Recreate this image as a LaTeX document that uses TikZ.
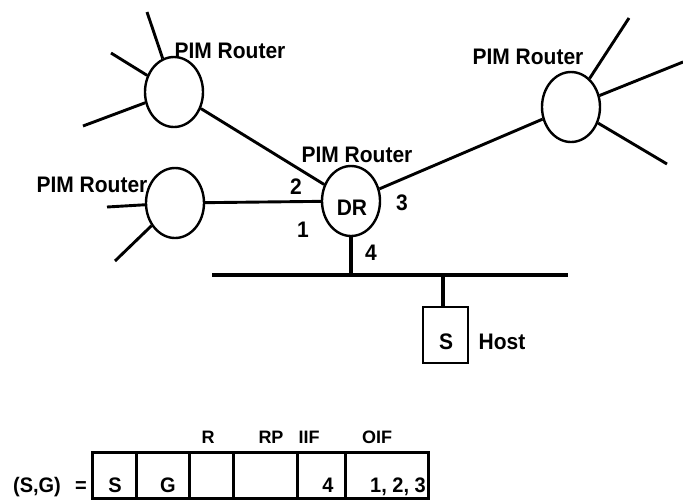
\documentclass[tikz,border=0pt]{standalone}
\usepackage{fontspec}
\setmainfont{Liberation Sans Bold}
\usetikzlibrary{shapes.geometric}
\begin{document}
\begin{tikzpicture}[x=1pt,y=-1pt,
  router/.style={ellipse, draw, line width=2.4pt, minimum width=58pt, minimum height=70pt, inner sep=0pt},
  lnk/.style={line width=2.9pt},
  bus/.style={line width=4.5pt},
  lbl/.style={font=\fontsize{21}{24}\selectfont, anchor=base, inner sep=0pt, yscale=1.07},
  tlbl/.style={font=\fontsize{20}{24}\selectfont, anchor=base, inner sep=0pt, yscale=1.05},
  hlbl/.style={font=\fontsize{18}{22}\selectfont, anchor=base, inner sep=0pt},
  cell/.style={draw, line width=2.8pt, anchor=north west, inner sep=0pt, minimum height=46pt}
]
\useasboundingbox (0,0) rectangle (683,499);

% routers
\node[router] (tl) at (174,92) {};
\node[router] (lr) at (175,203) {};
\node[router] (dr) at (351,201) {};
\node[router] (rr) at (571,107) {};

% spoke ends
\coordinate (tl1) at (147,12);
\coordinate (tl2) at (111,53);
\coordinate (tl3) at (83,126);
\coordinate (lr1) at (107,207);
\coordinate (lr2) at (115,261);
\coordinate (rr1) at (629,18);
\coordinate (rr2) at (683,62);
\coordinate (rr3) at (667,164);

\draw[lnk] (tl) -- (tl1);
\draw[lnk] (tl) -- (tl2);
\draw[lnk] (tl) -- (tl3);
\draw[lnk] (lr) -- (lr1);
\draw[lnk] (lr) -- (lr2);
\draw[lnk] (rr) -- (rr1);
\draw[lnk] (rr) -- (rr2);
\draw[lnk] (rr) -- (rr3);

% links
\draw[lnk] (tl) -- (dr);
\draw[lnk] (lr) -- (dr);
\draw[lnk] (dr) -- (rr);

% bus
\coordinate (busL) at (212,275);
\coordinate (busR) at (568,275);
\coordinate (hj) at (443,275);
\draw[bus] (busL) -- (busR);
\draw[line width=3.2pt] (dr.south) -- (dr.south |- busL);

% host
\node[draw, line width=2.2pt, minimum width=45pt, minimum height=56pt, inner sep=0pt] (host) at (445.5,335) {};
\draw[line width=3.2pt] (hj) -- (hj |- host.north);
\node[lbl] (hs) at (446,349) {S};
\node[lbl] (hl) at (502,349) {Host};

% labels
\node[lbl] (l1) at (230,58) {PIM Router};
\node[lbl] (l2) at (92,192) {PIM Router};
\node[lbl] (l3) at (357,162) {PIM Router};
\node[lbl] (l4) at (528,64) {PIM Router};
\node[lbl] (drt) at (352,215) {DR};
\node[lbl] (n2) at (296,194) {2};
\node[lbl] (n1) at (303,237) {1};
\node[lbl] (n3) at (402,210) {3};
\node[lbl] (n4) at (371,260) {4};

% table
\node[cell, minimum width=44pt] (c1) at (91,451) {};
\node[cell, minimum width=53pt] (c2) at (135,451) {};
\node[cell, minimum width=44pt] (c3) at (188,451) {};
\node[cell, minimum width=64pt] (c4) at (232,451) {};
\node[cell, minimum width=48pt] (c5) at (296,451) {};
\node[cell, minimum width=83pt] (c6) at (344,451) {};

\node[hlbl] (hR) at (208,443) {R};
\node[hlbl] (hRP) at (271,443) {RP};
\node[hlbl] (hIIF) at (309,443) {IIF};
\node[hlbl] (hOIF) at (377,443) {OIF};

\node[tlbl] (sg) at (37,492) {(S,G)};
\node[tlbl] (eq) at (81,492) {=};
\node[tlbl] (vS) at (115,492) {S};
\node[tlbl] (vG) at (168,492) {G};
\node[tlbl] (v4) at (328,492) {4};
\node[tlbl, anchor=base east] (v123) at (426,492) {1, 2, 3};
\end{tikzpicture}
\end{document}
